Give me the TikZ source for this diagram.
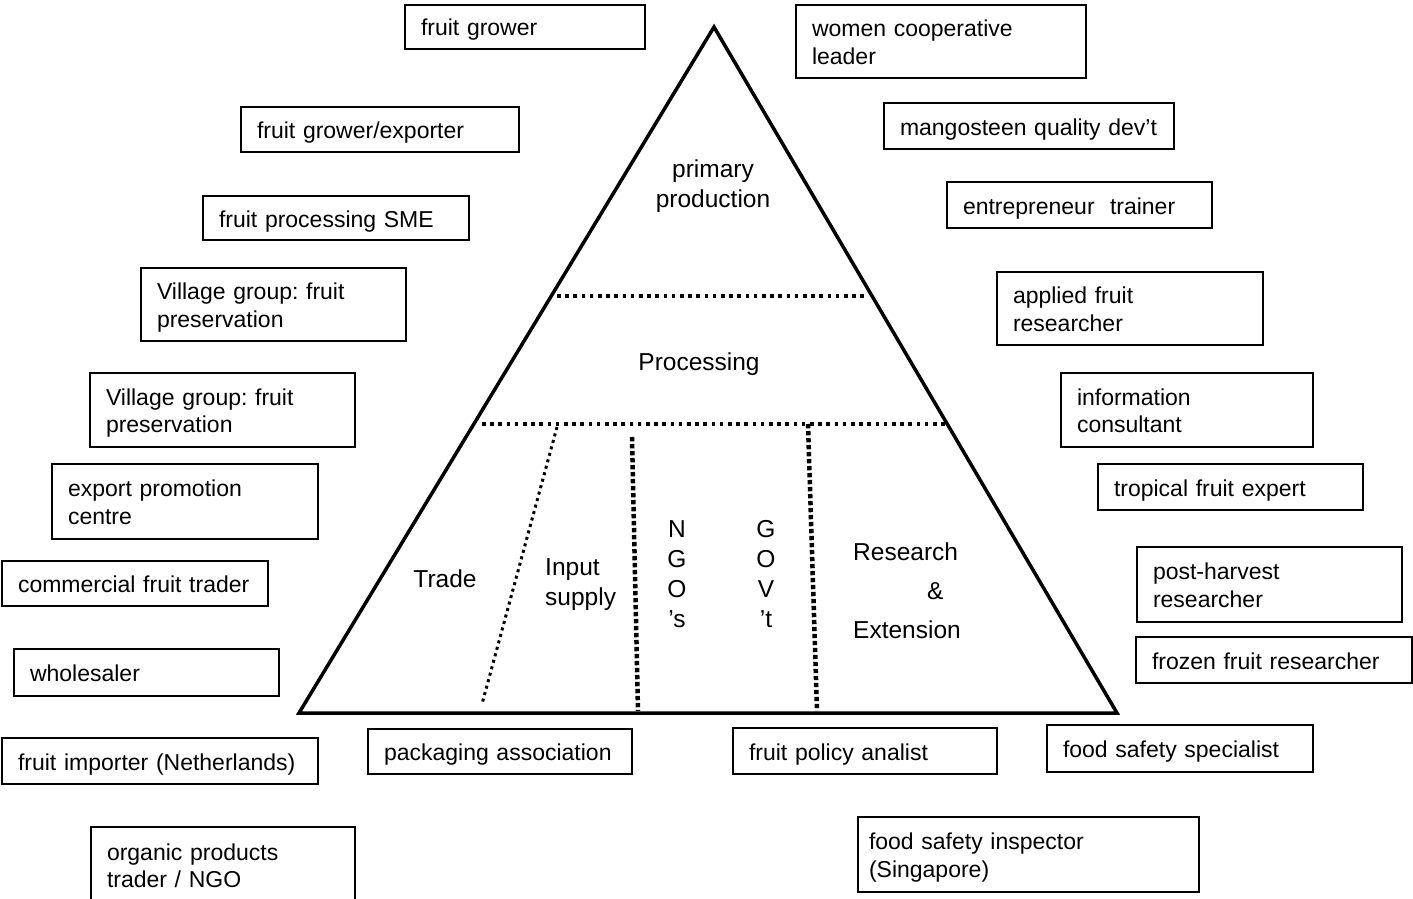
\documentclass[tikz,border=0pt]{standalone}
\usepackage{fontspec}
\setmainfont{Liberation Sans}
\frenchspacing
\newcommand\fsbox{\fontsize{23}{27.5}\selectfont}
\newcommand\fslbl{\fontsize{24.5}{30}\selectfont}
\newcommand\topstrut{\rule{0pt}{23pt}}
\newcommand\botstrut{\rule[-5pt]{0pt}{5pt}}
\tikzset{
  bx/.style={draw, line width=1.6pt, inner xsep=16pt, inner ysep=0pt, outer sep=0pt,
    align=left, anchor=north west, font=\fsbox,
    execute at begin node=\topstrut, execute at end node=\botstrut},
  lbl/.style={font=\fslbl, inner sep=0pt, anchor=base},
  tri/.style={line width=3.5pt, line join=miter},
  hdot/.style={line width=3.5pt, dash pattern=on 3.5pt off 4.7pt},
  sdot/.style={line width=3pt, dash pattern=on 3pt off 3.7pt},
  vdot/.style={line width=4.5pt, dash pattern=on 4.3pt off 2.7pt},
}
\begin{document}
\begin{tikzpicture}[x=1pt, y=-1pt]
\clip (0,0) rectangle (1413,899);
\fill[white] (0,0) rectangle (1413,899);

% pyramid
\coordinate (apex) at (714,27);
\coordinate (bl) at (299,713);
\coordinate (br) at (1117,713);
\draw[tri] (apex) -- (bl) -- (br) -- cycle;

\coordinate (h1a) at (557,296);
\coordinate (h1b) at (868,296);
\coordinate (h2a) at (482,424);
\coordinate (h2b) at (946,424);
\draw[hdot] (h1a) -- (h1b);
\draw[hdot] (h2a) -- (h2b);

\coordinate (d1a) at (557,427);
\coordinate (d1b) at (482,704);
\draw[sdot] (d1a) -- (d1b);
\coordinate (d2a) at (632,437);
\coordinate (d2b) at (638,711);
\draw[vdot] (d2a) -- (d2b);
\coordinate (d3a) at (808,424);
\coordinate (d3b) at (817,711);
\draw[vdot] (d3a) -- (d3b);

% labels inside pyramid (base anchor = baseline of last line)
\node[lbl, align=center] (prim) at (713,207) {primary\\production};
\node[lbl] (proc) at (699,370) {Processing};
\node[lbl] (trade) at (445,587) {Trade};
\node[lbl, align=left, anchor=base west] (input) at (545,605) {Input\\supply};
\node[lbl, align=center] (ngo) at (677,627) {N\\G\\O\\’s};
\node[lbl, align=center] (gov) at (766,627) {G\\O\\V\\’t};
\node[lbl, align=left, anchor=base west, font=\fontsize{24.5}{39}\selectfont] (res) at (853,638)
  {Research\\\hspace*{74pt}\&\\Extension};

% boxes
\node[bx, text width=208pt, minimum height=44pt] (b1) at (405,5) {fruit grower};
\node[bx, text width=258pt, minimum height=73pt] (b2) at (796,5) {women cooperative\\leader};
\node[bx, text width=246pt, minimum height=45pt] (b3) at (241,107) {fruit grower/exporter};
\node[bx, text width=258pt, minimum height=46pt] (b4) at (884,103) {mangosteen quality dev’t};
\node[bx, text width=234pt, minimum height=44pt] (b5) at (203,196) {fruit processing SME};
\node[bx, text width=233pt, minimum height=46pt] (b6) at (947,182) {entrepreneur~ trainer};
\node[bx, text width=233pt, minimum height=73pt] (b7) at (141,268) {Village group: fruit\\preservation};
\node[bx, text width=234pt, minimum height=73pt] (b8) at (997,272) {applied fruit\\researcher};
\node[bx, text width=233pt, minimum height=74pt] (b9) at (90,373) {Village group: fruit\\preservation};
\node[bx, text width=220pt, minimum height=74pt] (b10) at (1061,373) {information\\consultant};
\node[bx, text width=234pt, minimum height=75pt] (b11) at (52,464) {export promotion\\centre};
\node[bx, text width=233pt, minimum height=46pt] (b12) at (1098,464) {tropical fruit expert};
\node[bx, text width=234pt, minimum height=45pt] (b13) at (2,561) {commercial fruit trader};
\node[bx, text width=233pt, minimum height=75pt] (b14) at (1137,547) {post-harvest\\researcher};
\node[bx, text width=233pt, minimum height=47pt] (b15) at (14,649) {wholesaler};
\node[bx, text width=244pt, minimum height=46pt] (b16) at (1136,637) {frozen fruit researcher};
\node[bx, text width=284pt, minimum height=46pt] (b17) at (2,738) {fruit importer (Netherlands)};
\node[bx, text width=232pt, minimum height=45pt] (b18) at (368,729) {packaging association};
\node[bx, text width=232pt, minimum height=46pt] (b19) at (733,728) {fruit policy analist};
\node[bx, text width=234pt, minimum height=47pt] (b20) at (1047,725) {food safety specialist};
\node[bx, text width=232pt, minimum height=76pt] (b21) at (91,827) {organic products\\trader / NGO};
\node[bx, minimum height=75pt, inner xsep=11pt, text width=319pt] (b22) at (858,817) {food safety inspector\\(Singapore)};
\end{tikzpicture}
\end{document}
